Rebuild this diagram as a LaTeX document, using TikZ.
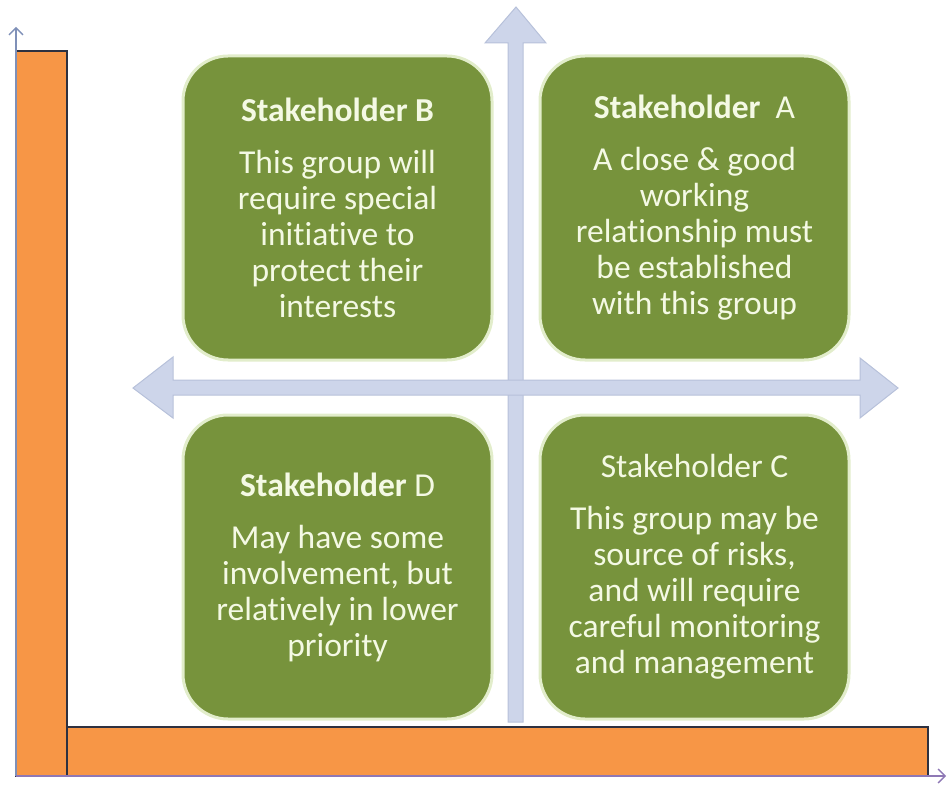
\documentclass[tikz,border=0pt]{standalone}
\usepackage{fontspec}
\setmainfont{Carlito}[Ligatures=NoCommon]
\usetikzlibrary{arrows.meta}
\definecolor{barorange}{HTML}{F79646}
\definecolor{bardark}{HTML}{2E3140}
\definecolor{boxgreen}{HTML}{77933C}
\definecolor{boxrim}{HTML}{E2EDCB}
\definecolor{arrfill}{HTML}{CDD5EA}
\definecolor{arredge}{HTML}{B7C1DA}
\definecolor{axisblue}{HTML}{7F90B8}
\definecolor{axispurple}{HTML}{8E78B5}
\definecolor{txtcol}{HTML}{F4F9E4}
\begin{document}
\begin{tikzpicture}[x=1pt,y=-1pt,
  sbox/.style={draw=boxrim, line width=3pt, fill=boxgreen, rounded corners=45pt,
    minimum width=309pt, minimum height=304pt, inner sep=0pt, align=center,
    text=txtcol, font=\fontsize{33.5}{36}\selectfont},
  bar/.style={fill=barorange, draw=bardark, line width=2.5pt},
  blockarrow/.style={fill=arrfill, draw=arredge, line width=1pt, line join=miter},
  axis/.style={line width=1.3pt, -{Straight Barb[length=7pt,width=14pt]}}]
\useasboundingbox (0,0) rectangle (947,786);
% axes bars
\draw[bar] (16,51) rectangle (67,776);
\draw[bar] (67,727) rectangle (928,776);
\coordinate (origin) at (16,776);
\coordinate (ytip) at (16,27);
\coordinate (xtip) at (946,776);
\draw[axis, axisblue] (origin) -- (ytip);
\draw[axis, axispurple] (origin) -- (xtip);
% block arrows
\draw[blockarrow] (508,722) -- (508,43) -- (485,43) -- (516,7) -- (546,43) -- (523,43) -- (523,722) -- cycle;
\draw[blockarrow] (173,380) -- (173,357) -- (133,388) -- (173,418) -- (173,395)
  -- (860,395) -- (860,418) -- (898,388) -- (860,358) -- (860,380) -- cycle;
% boxes
\node[sbox] (B) at (337.5,208) {\textbf{Stakeholder B}\\[16pt] This group will\\ require special\\ initiative to\\ protect their\\ interests};
\node[sbox] (A) at (694.5,208) {\textbf{Stakeholder}~ A\\[16pt] A close \& good\\ working\\ relationship must\\ be established\\ with this group};
\node[sbox] (D) at (337.5,567) {\textbf{Stakeholder} D\\[16pt] May have some\\ involvement, but\\ relatively in lower\\ priority};
\node[sbox] (C) at (694.5,567) {Stakeholder C\\[16pt] This group may be\\ source of risks,\\ and will require\\ careful monitoring\\ and management};
\end{tikzpicture}
\end{document}
